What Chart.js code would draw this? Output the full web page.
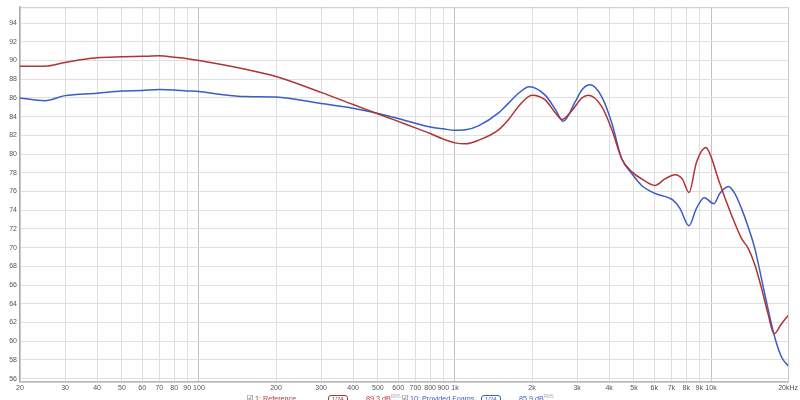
<!DOCTYPE html>
<html>
<head>
<meta charset="utf-8">
<script src="https://cdn.jsdelivr.net/npm/chart.js@4/dist/chart.umd.min.js"></script>
<style>
  html, body { margin: 0; padding: 0; background: #fff; }
  #wrap { position: relative; width: 800px; height: 400px; overflow: hidden; }
  canvas { position: absolute; left: 0; top: 0; }
  .lg { position: absolute; top: 394px; height: 9px; line-height: 9px; font: 7.2px "Liberation Sans", Arial, sans-serif; white-space: nowrap; }
  .cb { font: 7px "DejaVu Sans", sans-serif; color: #444; }
  .box { display: inline-block; height: 7px; line-height: 7px; font-size: 6px; padding: 0 3px; border: 1px solid; border-radius: 3px; }
  sup { font-size: 4.5px; color: #aab; vertical-align: 3px; }
</style>
</head>
<body>
<div id="wrap">
  <canvas id="c" width="800" height="400"></canvas>
  <div class="lg cb" style="left:247px;">&#9745;</div>
  <div class="lg" style="left:255px;color:#b03434;">1: Reference</div>
  <div class="lg" style="left:328px;color:#b03434;"><span class="box" style="border-color:#b03434;">1/24</span></div>
  <div class="lg" style="left:366px;color:#b03434;">89.3 dB<sup>RMS</sup></div>
  <div class="lg cb" style="left:402px;">&#9745;</div>
  <div class="lg" style="left:410px;color:#3a5cc8;">10: Provided Foams</div>
  <div class="lg" style="left:481px;color:#3a5cc8;"><span class="box" style="border-color:#3a5cc8;">1/24</span></div>
  <div class="lg" style="left:519px;color:#3a5cc8;">85.9 dB<sup>RMS</sup></div>
</div>
<script>
// ---- data ----
const refFreq = [20, 25, 30, 35, 40, 50, 60, 70, 80, 90, 100, 150, 200, 300, 400, 490, 600, 700, 800, 900, 1000, 1100, 1240, 1480, 1620, 1770, 2000, 2250, 2470, 2620, 2870, 3130, 3320, 3740, 4100, 4480, 4910, 5360, 6040, 6610, 7230, 7720, 8200, 8770, 9550, 10040, 10670, 12020, 13150, 13960, 14820, 15740, 16710, 17630, 18830, 20000];
const refDb   = [89.4, 89.4, 89.8, 90.1, 90.3, 90.4, 90.45, 90.5, 90.35, 90.2, 90.0, 89.1, 88.3, 86.6, 85.3, 84.4, 83.5, 82.8, 82.2, 81.6, 81.2, 81.1, 81.5, 82.6, 83.7, 85.1, 86.3, 85.8, 84.4, 83.7, 84.7, 86.0, 86.3, 85.1, 82.6, 79.5, 78.1, 77.35, 76.65, 77.35, 77.8, 77.35, 75.9, 79.1, 80.7, 79.6, 77.35, 73.5, 71.0, 69.95, 68.2, 65.7, 62.9, 60.8, 61.85, 62.75];

const foamFreq = [20, 25, 30, 40, 50, 60, 70, 80, 90, 100, 120, 150, 200, 300, 400, 490, 600, 700, 800, 900, 1000, 1100, 1240, 1480, 1620, 1770, 1950, 2250, 2470, 2645, 2950, 3130, 3370, 3740, 4100, 4480, 4910, 5360, 6040, 7090, 7560, 8200, 8770, 9410, 10260, 10820, 11700, 12380, 13150, 13960, 14820, 16230, 17730, 18830, 20000];
const foamDb   = [86.0, 85.7, 86.25, 86.5, 86.75, 86.8, 86.9, 86.85, 86.75, 86.7, 86.4, 86.15, 86.1, 85.4, 84.9, 84.4, 83.8, 83.3, 82.9, 82.7, 82.55, 82.6, 83.05, 84.4, 85.45, 86.5, 87.2, 86.3, 84.75, 83.5, 85.6, 86.85, 87.4, 86.15, 83.3, 79.5, 77.9, 76.65, 75.8, 75.1, 74.2, 72.35, 74.2, 75.35, 74.7, 75.8, 76.55, 75.8, 74.2, 72.25, 69.95, 65.0, 60.45, 58.35, 57.35];

const xTickValues = [20, 30, 40, 50, 60, 70, 80, 90, 100, 200, 300, 400, 500, 600, 700, 800, 900, 1000, 2000, 3000, 4000, 5000, 6000, 7000, 8000, 9000, 10000, 20000];
const xTickLabels = ['20', '30', '40', '50', '60', '70', '80', '90', '100', '200', '300', '400', '500', '600', '700', '800', '900', '1k', '2k', '3k', '4k', '5k', '6k', '7k', '8k', '9k', '10k', '20kHz'];
const yTickValues = [56, 58, 60, 62, 64, 66, 68, 70, 72, 74, 76, 78, 80, 82, 84, 86, 88, 90, 92, 94];

const toPoints = (fs, vs) => fs.map((f, i) => ({ x: f, y: vs[i] }));

const framePlugin = {
  id: 'frame',
  beforeDatasetsDraw(chart) {
    const a = chart.chartArea, c = chart.ctx;
    c.save();
    c.strokeStyle = '#c8c8c8';
    c.lineWidth = 1;
    c.strokeRect(a.left + 0.5, a.top + 0.5, a.right - a.left, a.bottom - a.top);
    c.restore();
  }
};

new Chart(document.getElementById('c'), {
  type: 'line',
  data: {
    datasets: [
      { label: '1: Reference', data: toPoints(refFreq, refDb), borderColor: '#b03434', borderWidth: 1.5, pointRadius: 0, cubicInterpolationMode: 'monotone', fill: false },
      { label: '10: Provided Foams', data: toPoints(foamFreq, foamDb), borderColor: '#3a5cc8', borderWidth: 1.5, pointRadius: 0, cubicInterpolationMode: 'monotone', fill: false }
    ]
  },
  options: {
    responsive: false,
    animation: false,
    layout: { padding: { top: 3, right: 9, left: 0, bottom: 0 } },
    plugins: { legend: { display: false }, tooltip: { enabled: false } },
    scales: {
      x: {
        type: 'logarithmic', min: 20, max: 20000,
        afterBuildTicks: s => { s.ticks = xTickValues.map(v => ({ value: v })); },
        afterFit: s => { s.height = 18.5; },
        ticks: {
          autoSkip: false, maxRotation: 0, padding: 2, color: '#555',
          font: { family: 'Liberation Sans', size: 7 },
          callback: (v, i) => xTickLabels[i]
        },
        grid: {
          drawTicks: false,
          color: c => ([100, 1000, 10000].includes(c.tick && c.tick.value) ? '#c2c2c2' : '#dedede')
        },
        border: { color: '#a8a8a8', width: 1.5 }
      },
      y: {
        min: 55.7, max: 95.7,
        afterBuildTicks: s => { s.ticks = yTickValues.map(v => ({ value: v })); },
        afterFit: s => { s.width = 20; },
        ticks: { padding: 3, color: '#555', font: { family: 'Liberation Sans', size: 7 } },
        grid: { drawTicks: false, color: '#e0e0e0' },
        border: { color: '#a8a8a8', width: 1.5 }
      }
    }
  },
  plugins: [framePlugin]
});
</script>
</body>
</html>
